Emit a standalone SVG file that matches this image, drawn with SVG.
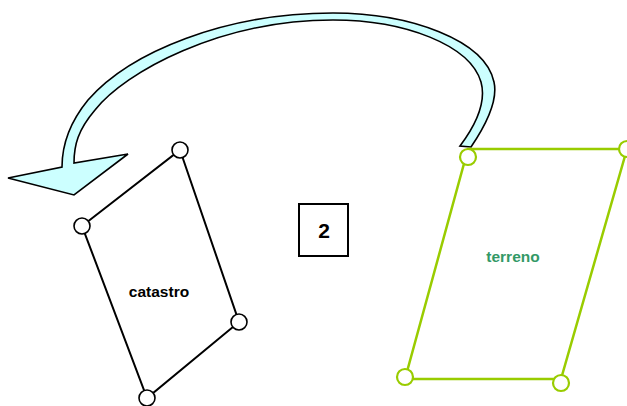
<svg xmlns="http://www.w3.org/2000/svg" width="627" height="406" viewBox="0 0 627 406">
<style>
.lbl{font-family:"Liberation Sans",Arial,sans-serif;font-weight:bold;text-anchor:middle}
.kc{fill:#fff;stroke:#000;stroke-width:1.6}
.gc{fill:#fff;stroke:#99cc00;stroke-width:2.2}
</style>
<rect width="627" height="406" fill="#fff"/>
<g id="connectors">
<path d="M471,147 C488,122 498,100 494,82 C485,40 410,13 333,13 C225,13 130,52 88,100 C70,122 62,145 62,167 L8,178 L74,195 L128,154 L74,163 C74,145 78,130 95,110 C125,72 220,20 333,20 C405,20 470,45 481,82 C486,100 478,122 460,146 Z" fill="#ccffff" stroke="#000" stroke-width="1.6" stroke-linejoin="miter"/>
</g>
<g id="catastro">
<polygon points="180,150 239,322 147,398 82,226" fill="none" stroke="#000" stroke-width="2"/>
<circle class="kc" cx="180" cy="150" r="8"/>
<circle class="kc" cx="82" cy="226" r="8"/>
<circle class="kc" cx="239" cy="322" r="8"/>
<circle class="kc" cx="147" cy="398" r="8"/>
<text class="lbl" x="159" y="297" font-size="15.5" fill="#000">catastro</text>
</g>
<g id="terreno">
<polygon points="468,149 627,149 561,379 405,379" fill="none" stroke="#99cc00" stroke-width="2.5"/>
<circle class="gc" cx="468" cy="157" r="8"/>
<circle class="gc" cx="627" cy="149" r="8"/>
<circle class="gc" cx="405" cy="377" r="8"/>
<circle class="gc" cx="561" cy="383" r="8"/>
<text class="lbl" x="513" y="262" font-size="15.5" fill="#339966">terreno</text>
</g>
<g id="step">
<rect x="299" y="204" width="49" height="52" fill="#fff" stroke="#000" stroke-width="2"/>
<text class="lbl" x="324" y="238" font-size="21" fill="#000">2</text>
</g>
</svg>
